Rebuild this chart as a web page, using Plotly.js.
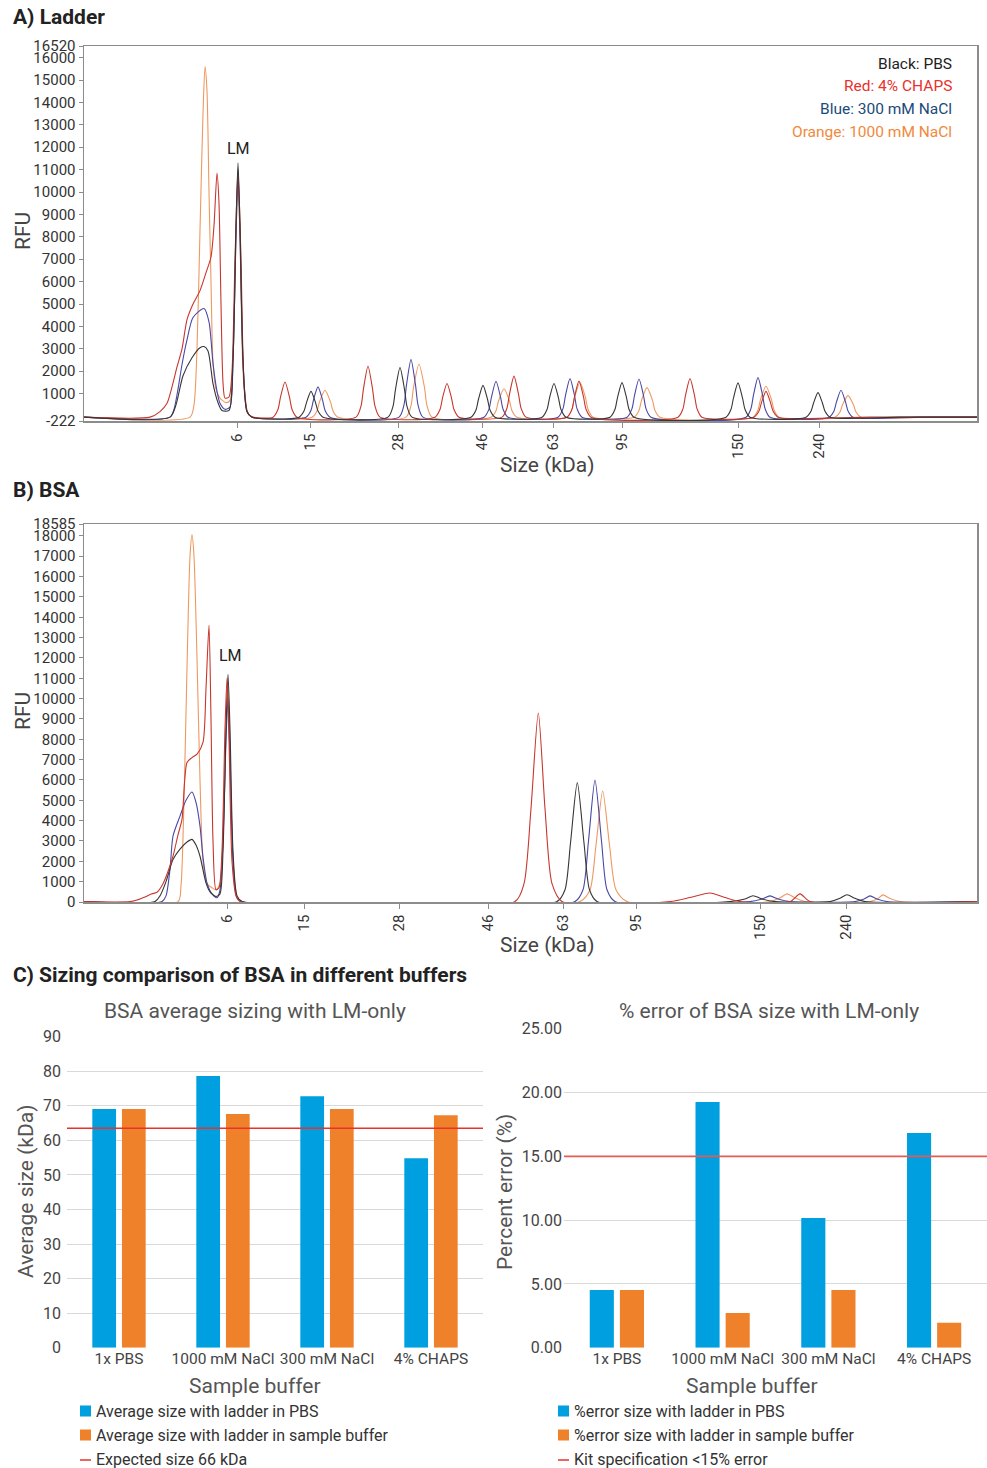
<!DOCTYPE html>
<html><head><meta charset="utf-8">
<script src="https://cdn.plot.ly/plotly-3.0.1.min.js"></script>
<style>html,body{margin:0;padding:0;background:#fff}#chart{width:987px;height:1468px}</style>
</head><body><div id="chart"></div>
<script>
// ================= DATA =================
// Size-ladder tick labels (kDa) and their migration positions (arbitrary migration units)
const sizeLabels = ['6','15','28','46','63','95','150','240'];
const ladderPosA = [237,310,398,482,553,622,738,819];
const ladderPosB = [227,304,399,488,563,636,760,846];
const yTicksA = [-222,1000,2000,3000,4000,5000,6000,7000,8000,9000,10000,11000,12000,13000,14000,15000,16000,16520];
const yTicksB = [0,1000,2000,3000,4000,5000,6000,7000,8000,9000,10000,11000,12000,13000,14000,15000,16000,17000,18000,18585];
const yRangeA = [-222,16520];
const yRangeB = [0,18585];

// Panel A (ladder) electropherograms: migration position / RFU
const xA_black = [84,170,176,183,192,200,204,208,213,218,222,229,233,236,238,240,243,247,252,
  299,304,306.5,311,315.5,318,323, 388,393,395.5,400,404.5,407,412, 471,476,478.5,483,487.5,490,495,
  542,547,549.5,554,558.5,561,566, 610,615,617.5,622,626.5,629,634, 726,731,733.5,738,742.5,745,750,
  806,811,813.5,818,822.5,825,830, 900,977];
const yA_black = [-50,-50,500,1800,2600,3050,3100,2900,1450,600,250,250,2500,8500,11300,8500,2500,200,-50,
  -50,220,600,1100,600,220,-50, -50,430,1190,2160,1190,430,-50, -50,270,750,1370,750,270,-50,
  -50,290,800,1450,800,290,-50, -50,300,820,1490,820,300,-50, -50,300,810,1480,810,300,-50,
  -50,210,570,1045,570,210,-50, -50,-50];

const xA_red = [84,150,160,167,172,177,182,187,193,200,206,211,214,217,219,221,223,225,229,232,235,238,241,244,248,253,
  273,278,280.5,285,289.5,292,297, 356,361,363.5,368,372.5,375,380, 435,440,442.5,447,451.5,454,459,
  502,507,509.5,514,518.5,521,526, 567,572,574.5,579,583.5,586,591, 678,683,685.5,690,694.5,697,702,
  754,759,761.5,766,770.5,773,778, 870,977];
const yA_red = [-50,-50,200,570,1300,2190,3000,4300,5000,5600,6400,7100,8500,10850,9500,5000,1500,800,850,2000,7000,11000,7000,1500,100,-50,
  -50,300,840,1520,840,300,-50, -50,440,1220,2220,1220,440,-50, -50,290,800,1450,800,290,-50,
  -50,360,980,1780,980,360,-50, -50,310,860,1560,860,310,-50, -50,330,920,1670,920,330,-50,
  -50,220,600,1100,600,220,-50, -50,-50];

const xA_blue = [84,170,174,178,182,187,193,204,209,213,217,220,225,230,233,236,238,240,243,247,252,
  306,311,313.5,318,322.5,325,330, 399,404,406.5,411,415.5,418,423, 484,489,491.5,496,500.5,503,508,
  558,563,565.5,570,574.5,577,582, 627,632,634.5,639,643.5,646,651, 746,751,753.5,758,762.5,765,770,
  829,834,836.5,841,845.5,848,853, 920,977];
const yA_blue = [-50,-50,300,1200,2300,3400,4400,4800,4200,2350,1100,570,300,400,2500,8000,10800,8000,2500,200,-50,
  -50,260,720,1300,720,260,-50, -50,500,1390,2520,1390,500,-50, -50,310,850,1550,850,310,-50,
  -50,330,920,1670,920,330,-50, -50,330,910,1650,910,330,-50, -50,340,940,1715,940,340,-50,
  -50,230,630,1150,630,230,-50, -50,-50];

const xA_orange = [84,190,194,197,200,203,205,207,209,211,213,216,220,226,230,233,236,238,240,243,247,252,
  312,317,319.5,325,330.5,333,338, 406,411,413.5,419,424.5,427,432, 491,496,498.5,504,509.5,512,517,
  567,572,574.5,580,585.5,588,593, 634,639,641.5,647,652.5,655,660, 753,758,760.5,766,771.5,774,779,
  835,840,842.5,848,853.5,856,861, 930,977];
const yA_orange = [-50,-50,500,3000,8300,13500,15600,14500,10000,6000,2400,1200,800,600,700,2500,8000,10500,8000,2000,200,-50,
  -50,230,630,1150,630,230,-50, -50,460,1270,2310,1270,460,-50, -50,240,670,1220,670,240,-50,
  -50,300,820,1500,820,300,-50, -50,250,700,1270,700,250,-50, -50,270,730,1330,730,270,-50,
  -50,180,500,910,500,180,-50, -50,-50];

// Panel B (BSA) electropherograms
const xB_black = [84,155,160,166,173,180,187,192,196,200,206,210,216,220,223,226,228,230,233,237,242,
  557,565,570.5,577.3,584,589.5,597, 730,745,753,762,775, 830,840,847,855,865, 977];
const yB_black = [20,20,300,1000,2090,2600,2950,3080,2800,2250,940,500,270,400,2500,8500,11200,8500,2500,300,20,
  20,600,2900,5870,2900,600,20, 20,150,310,150,20, 20,180,360,180,20, 20];

const xB_red = [84,130,137,145,152,157,163,168,173,178,182,187,192,197,203,206,209,211,213,216,219,222,225,227,229,232,236,240,
  515,524,531,538.3,545,552,562, 670,690,710,725,740, 790,800,810, 977];
const yB_red = [20,20,100,250,400,480,900,1500,2250,3300,4060,6860,7100,7270,7850,10500,13600,9000,3000,600,700,2500,8500,11000,8000,2000,300,20,
  20,900,4600,9290,4600,900,20, 20,220,445,220,20, 20,400,20, 20];

const xB_blue = [84,162,166,170,173,180,186,192,196,200,203,207,212,217,220,223,226,228,230,233,237,242,
  575,583,588.5,595,601.5,607,615, 750,762,770,778,790, 855,864,870,877,887, 977];
const yB_blue = [20,20,300,1600,3240,4225,5000,5410,4900,3730,2200,940,400,210,600,3000,8000,10000,7000,2000,200,20,
  20,600,3000,5990,3000,600,20, 20,150,300,150,20, 20,150,300,150,20, 20];

const xB_orange = [84,178,181,184,187,190,192,194,197,200,203,207,212,216,220,223,226,228,230,233,237,242,
  580,590,596,602.7,609.5,616,627, 770,780,787,795,805, 870,878,883,890,900, 977];
const yB_orange = [20,20,800,5000,11500,17000,18050,17000,12000,6000,2000,900,700,600,900,3000,8500,10500,7500,2000,300,20,
  20,600,2800,5460,2800,600,20, 20,200,400,200,20, 20,170,350,170,20, 20];

// Panel C bar charts
const buffers = ['1x PBS','1000 mM NaCl','300 mM NaCl','4% CHAPS'];
const avgSizeLadderPBS = [69.1, 78.6, 72.8, 54.8];
const avgSizeLadderSample = [69.1, 67.6, 69.1, 67.3];
const expectedSizeLine = 63.5;
const errLadderPBS = [4.52, 19.25, 10.16, 16.82];
const errLadderSample = [4.52, 2.72, 4.52, 1.96];
const kitSpecLine = 15;

const traceLabelsA = ['Black: PBS','Red: 4% CHAPS','Blue: 300 mM NaCl','Orange: 1000 mM NaCl'];
const legendLeft = ['Average size with ladder in PBS','Average size with ladder in sample buffer','Expected size 66 kDa'];
const legendRight = ['%error size with ladder in PBS','%error size with ladder in sample buffer','Kit specification <15% error'];

// ================= STYLE / LAYOUT =================
const W = 987, H = 1468;
const fx = p => p / W, fy = p => 1 - p / H;
const C = {black:'#363636', red:'#c8362c', blue:'#4848a6', orange:'#ee9860', barBlue:'#009fdf', barOrange:'#f0812b', line:'#e8322b'};
const FONT = 'Roboto, "Open Sans", "Noto Sans", sans-serif';

function ep(x, y, color, xa, ya, name) {
  return {type:'scatter', mode:'lines', x:x, y:y, xaxis:xa, yaxis:ya, name:name, showlegend:false,
    line:{color:color, width:1.1, shape:'spline', smoothing:0.7}, hoverinfo:'skip'};
}
const traces = [
  ep(xA_orange, yA_orange, C.orange, 'x', 'y', 'Orange: 1000 mM NaCl'),
  ep(xA_blue, yA_blue, C.blue, 'x', 'y', 'Blue: 300 mM NaCl'),
  ep(xA_red, yA_red, C.red, 'x', 'y', 'Red: 4% CHAPS'),
  ep(xA_black, yA_black, C.black, 'x', 'y', 'Black: PBS'),
  ep(xB_orange, yB_orange, C.orange, 'x2', 'y2', 'Orange: 1000 mM NaCl'),
  ep(xB_blue, yB_blue, C.blue, 'x2', 'y2', 'Blue: 300 mM NaCl'),
  ep(xB_black, yB_black, C.black, 'x2', 'y2', 'Black: PBS'),
  ep(xB_red, yB_red, C.red, 'x2', 'y2', 'Red: 4% CHAPS'),
  {type:'bar', x:buffers, y:avgSizeLadderPBS, xaxis:'x3', yaxis:'y3', name:legendLeft[0], marker:{color:C.barBlue}, showlegend:false},
  {type:'bar', x:buffers, y:avgSizeLadderSample, xaxis:'x3', yaxis:'y3', name:legendLeft[1], marker:{color:C.barOrange}, showlegend:false},
  {type:'bar', x:buffers, y:errLadderPBS, xaxis:'x4', yaxis:'y4', name:legendRight[0], marker:{color:C.barBlue}, showlegend:false},
  {type:'bar', x:buffers, y:errLadderSample, xaxis:'x4', yaxis:'y4', name:legendRight[1], marker:{color:C.barOrange}, showlegend:false}
];

const frameAxis = {showline:true, mirror:true, linecolor:'#8c8c8c', linewidth:1.5, showgrid:false, zeroline:false,
  ticks:'outside', tickcolor:'#8c8c8c', tickfont:{size:15, color:'#333'}};
const barY = {showgrid:true, gridcolor:'#d9d9d9', gridwidth:1, zeroline:false, showline:false, ticks:'',
  tickfont:{size:16, color:'#444'}, fixedrange:true};
const barX = {type:'category', showline:false, showgrid:false, ticks:'', tickangle:0, automargin:false,
  tickfont:{size:15.5, color:'#444'}};

const layout = {
  width:W, height:H, margin:{l:0, r:0, t:0, b:0}, paper_bgcolor:'#fff', plot_bgcolor:'#fff',
  font:{family:FONT, color:'#333', size:14}, showlegend:false,
  barmode:'group', bargap:0.43, bargroupgap:0.2,
  xaxis:Object.assign({}, frameAxis, {domain:[fx(84), fx(977)], range:[84,977], anchor:'y',
    tickvals:ladderPosA, ticktext:sizeLabels, tickangle:-90, ticklen:5}),
  yaxis:Object.assign({}, frameAxis, {domain:[fy(421), fy(46)], range:yRangeA, anchor:'x',
    tickvals:yTicksA, ticktext:yTicksA.map(String), ticklen:4}),
  xaxis2:Object.assign({}, frameAxis, {domain:[fx(84), fx(977)], range:[84,977], anchor:'y2',
    tickvals:ladderPosB, ticktext:sizeLabels, tickangle:-90, ticklen:5}),
  yaxis2:Object.assign({}, frameAxis, {domain:[fy(902), fy(524)], range:yRangeB, anchor:'x2',
    tickvals:yTicksB, ticktext:yTicksB.map(String), ticklen:4}),
  xaxis3:Object.assign({}, barX, {domain:[fx(67), fx(483)], anchor:'y3'}),
  yaxis3:Object.assign({}, barY, {domain:[fy(1347.7), fy(1036.7)], range:[0,90], dtick:10, anchor:'x3', ticklabelstandoff:5}),
  xaxis4:Object.assign({}, barX, {domain:[fx(564), fx(987)], anchor:'y4'}),
  yaxis4:Object.assign({}, barY, {domain:[fy(1347.7), fy(1028.7)], range:[0,25], dtick:5, tickformat:'.2f', anchor:'x4', ticklabelstandoff:1}),
  shapes:[
    {type:'line', xref:'x3 domain', yref:'y3', x0:0, x1:1, y0:expectedSizeLine, y1:expectedSizeLine, line:{color:C.line, width:1.5}},
    {type:'line', xref:'x4 domain', yref:'y4', x0:0, x1:1, y0:kitSpecLine, y1:kitSpecLine, line:{color:'#e85a50', width:1.8}}
  ],
  annotations:[]
};

function ann(text, x, y, opts) {
  layout.annotations.push(Object.assign({text:text, xref:'paper', yref:'paper', x:fx(x), y:fy(y),
    showarrow:false, xanchor:'left', yanchor:'middle', font:{size:15, color:'#333', family:FONT}}, opts || {}));
}
// section titles
const secFont = {size:21, color:'#222', family:FONT};
ann('<b>A) Ladder</b>', 11, 17, {font:secFont});
ann('<b>B) BSA</b>', 11, 490, {font:secFont});
ann('<b>C) Sizing comparison of BSA in different buffers</b>', 11, 975, {font:secFont});
// axis titles A/B
const axFont = {size:21, color:'#444', family:FONT};
ann('RFU', 23, 231, {xanchor:'center', textangle:-90, font:axFont});
ann('RFU', 23, 711, {xanchor:'center', textangle:-90, font:axFont});
ann('Size (kDa)', 547, 465, {xanchor:'center', font:axFont});
ann('Size (kDa)', 547, 945, {xanchor:'center', font:axFont});
ann('LM', 238, 148, {xanchor:'center', font:{size:16, color:'#222', family:FONT}});
ann('LM', 230, 656, {xanchor:'center', font:{size:16, color:'#222', family:FONT}});
// colour key in panel A
const keyColors = ['#222222', '#e8322b', '#1a4a7a', '#f08a3c'];
const keyY = [64, 86, 109, 132];
traceLabelsA.forEach((t, i) => ann(t, 954, keyY[i], {xanchor:'right', font:{size:15.5, color:keyColors[i], family:FONT}}));
// bar chart titles and axis titles
const cFont = {size:21, color:'#555', family:FONT};
ann('BSA average sizing with LM-only', 255, 1011, {xanchor:'center', font:cFont});
ann('% error of BSA size with LM-only', 769, 1011, {xanchor:'center', font:cFont});
ann('Average size (kDa)', 26, 1191, {xanchor:'center', textangle:-90, font:cFont});
ann('Percent error (%)', 505, 1192, {xanchor:'center', textangle:-90, font:cFont});
ann('Sample buffer', 255, 1386, {xanchor:'center', font:cFont});
ann('Sample buffer', 752, 1386, {xanchor:'center', font:cFont});
// manual legends for bar charts
const legY = [1411, 1435, 1459];
function legend(x0, labels) {
  labels.forEach((t, i) => {
    if (i < 2) {
      layout.shapes.push({type:'rect', xref:'paper', yref:'paper', x0:fx(x0), x1:fx(x0 + 11),
        y0:fy(legY[i] + 5.5), y1:fy(legY[i] - 5.5), fillcolor:i === 0 ? C.barBlue : C.barOrange, line:{width:0}});
    } else {
      layout.shapes.push({type:'line', xref:'paper', yref:'paper', x0:fx(x0), x1:fx(x0 + 11),
        y0:fy(legY[i] + 1), y1:fy(legY[i] + 1), line:{color:C.line, width:1.5}});
    }
    ann(t, x0 + 14, legY[i], {font:{size:16, color:'#333', family:FONT}});
  });
}
legend(80, legendLeft);
legend(558, legendRight);

Plotly.newPlot('chart', traces, layout, {staticPlot:true, displayModeBar:false});
</script></body></html>
